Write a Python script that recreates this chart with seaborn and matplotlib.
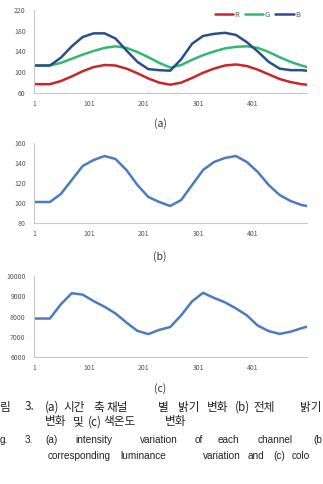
import numpy as np
import pandas as pd
import matplotlib.pyplot as plt
import seaborn as sns
from matplotlib import font_manager

# Frame index (x axis) and values
frames = [1, 20, 30, 50, 70, 90, 110, 130, 150, 170, 190, 210, 230, 250,
          270, 290, 310, 330, 350, 370, 390, 410, 430, 450, 470, 490, 500]
red = [77, 77, 77, 83, 92, 102, 110, 114, 113, 107, 98, 88, 80, 76,
       80, 89, 99, 107, 113, 115, 112, 105, 96, 87, 81, 77, 76]
green = [113, 113, 113, 118, 126, 134, 141, 147, 150, 147, 139, 129, 118, 109,
         114, 124, 133, 140, 146, 149, 150, 147, 139, 129, 120, 113, 110]
blue = [113, 113, 113, 128, 150, 168, 175, 175, 165, 142, 120, 106, 104, 103,
        125, 155, 170, 174, 176, 172, 158, 140, 120, 107, 104, 104, 103]
luminance = [101, 101, 101, 109, 123, 137, 143, 147, 144, 133, 118, 106, 101, 97,
             103, 118, 133, 141, 145, 147, 141, 131, 118, 108, 102, 98, 97]
cct = [7900, 7900, 7900, 8600, 9150, 9080, 8760, 8480, 8150, 7700, 7290, 7130, 7340, 7480,
       8060, 8750, 9170, 8920, 8700, 8400, 8060, 7550, 7280, 7140, 7250, 7420, 7500]
x_ticks = [1, 101, 201, 301, 401]

sns.set_style("white")
plt.rcParams['font.family'] = ['Noto Sans CJK KR', 'DejaVu Sans']

# narrow latin face for the english caption, if present
names = {f.name for f in font_manager.fontManager.ttflist}
latin = 'Liberation Sans Narrow' if 'Liberation Sans Narrow' in names else 'Liberation Sans'
latin_size = 9.0 if latin == 'Liberation Sans Narrow' else 7.2

W, H = 323, 484
fig = plt.figure(figsize=(W / 100, H / 100), dpi=100)


def px_axes(left, top, right, bottom):
    return fig.add_axes([left / W, 1 - bottom / H, (right - left) / W, (bottom - top) / H])


def style_axes(ax, ylim, yticks):
    ax.set_xlim(1, 500)
    ax.set_ylim(*ylim)
    ax.set_yticks(yticks)
    ax.set_xticks(x_ticks)
    ax.set_xticklabels([str(t) for t in x_ticks])
    ax.set_xlabel("")
    ax.set_ylabel("")
    sns.despine(ax=ax)
    for s in ("left", "bottom"):
        ax.spines[s].set_color("#c8c8c8")
        ax.spines[s].set_linewidth(0.8)
    ax.tick_params(axis="both", length=0, labelsize=5, labelcolor="#555555")
    ax.tick_params(axis="y", pad=6)
    ax.tick_params(axis="x", pad=5)
    ax.patch.set_alpha(0)


# (a) intensity per channel
df_a = pd.DataFrame({"frame": frames * 3,
                     "value": red + green + blue,
                     "ch": ["R"] * len(frames) + ["G"] * len(frames) + ["B"] * len(frames)})
ax1 = px_axes(34, 10, 307, 93)
sns.lineplot(data=df_a, x="frame", y="value", hue="ch", ax=ax1,
             palette={"R": "#c8262a", "G": "#33b86f", "B": "#2b4e8a"}, linewidth=1.8)
style_axes(ax1, (60, 220), [60, 100, 140, 180, 220])
ax1.legend(loc="upper right", bbox_to_anchor=(1.0, 1.07), ncol=3, frameon=False,
           fontsize=5.5, handlelength=2.4, handletextpad=0.2, columnspacing=0.7,
           labelcolor="#555555")

# (b) luminance
ax2 = px_axes(34, 143, 307, 223)
sns.lineplot(x=frames, y=luminance, ax=ax2, color="#4a7cbf", linewidth=1.8)
style_axes(ax2, (80, 160), [80, 100, 120, 140, 160])

# (c) colour temperature
ax3 = px_axes(34, 276, 307, 357)
sns.lineplot(x=frames, y=cct, ax=ax3, color="#4a7cbf", linewidth=1.8)
style_axes(ax3, (6000, 10000), [6000, 7000, 8000, 9000, 10000])

# sub-figure labels
for lab, y in (("(a)", 124), ("(b)", 257), ("(c)", 389)):
    fig.text(160 / W, 1 - y / H, lab, ha="center", va="center", fontsize=7.5, color="#333333")

# justified caption, placed word by word (only the part visible in the reference)
caption_ko = [
    (407, [("림", 0), ("3.", 25), ("(a)", 45), ("시간", 63), ("축", 93), ("채널", 107),
           ("별", 158), ("밝기", 178), ("변화", 207), ("(b)", 235), ("전체", 253), ("밝기", 300)]),
    (422, [("변화", 45), ("및", 73), ("(c)", 88), ("색온도", 103), ("변화", 165)]),
]
caption_en = [
    (440, [("g.", 0), ("3.", 25), ("(a)", 45), ("intensity", 75), ("variation", 140),
           ("of", 195), ("each", 218), ("channel", 258), ("(b", 313)]),
    (456, [("corresponding", 48), ("luminance", 120), ("variation", 203), ("and", 248),
           ("(c)", 273), ("colo", 292)]),
]
for y, words in caption_ko:
    for w, x in words:
        fig.text(x / W, 1 - y / H, w, ha="left", va="center", fontsize=8.4, color="#222222")
for y, words in caption_en:
    for w, x in words:
        fig.text(x / W, 1 - y / H, w, ha="left", va="center", fontsize=latin_size,
                 color="#222222", family=[latin, 'DejaVu Sans'])

fig.savefig("out.png", dpi=100)
